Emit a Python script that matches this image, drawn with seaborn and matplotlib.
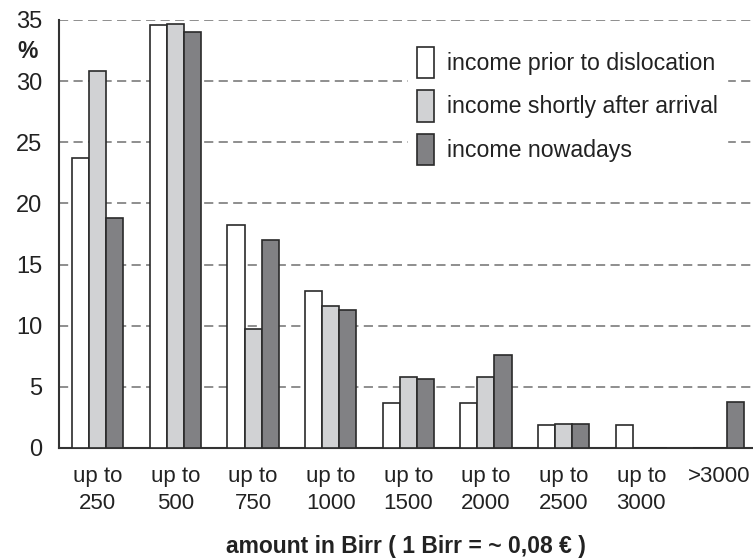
import pandas as pd
import matplotlib.pyplot as plt
import seaborn as sns

# Data
categories = ["up to\n250", "up to\n500", "up to\n750", "up to\n1000", "up to\n1500",
              "up to\n2000", "up to\n2500", "up to\n3000", ">3000"]
series = ["income prior to dislocation", "income shortly after arrival", "income nowadays"]
prior = [23.7, 34.6, 18.2, 12.8, 3.7, 3.7, 1.85, 1.85, 0]
shortly = [30.8, 34.7, 9.7, 11.6, 5.8, 5.8, 1.95, 0, 0]
nowadays = [18.8, 34.0, 17.0, 11.3, 5.65, 7.6, 1.95, 0, 3.8]

colors = ["#ffffff", "#d1d2d4", "#808184"]

rows = []
for s, vals in zip(series, [prior, shortly, nowadays]):
    for c, v in zip(categories, vals):
        rows.append({"cat": c, "val": v, "series": s})
df = pd.DataFrame(rows)

sns.set_style("white")
plt.rcParams["font.family"] = ["Liberation Sans", "DejaVu Sans"]

fig = plt.figure(figsize=(7.53, 5.59), dpi=100)
ax = fig.add_axes([59 / 753, 1 - 448 / 559, 1 - 59 / 753, 428 / 559])

sns.barplot(data=df, x="cat", y="val", hue="series", palette=colors,
            edgecolor="#2a2a2a", linewidth=1.2, width=0.66, ax=ax, zorder=3)

ax.set_ylim(0, 35)
ax.set_xlim(-0.5, 8.44)
ax.set_yticks(range(0, 36, 5))
ax.yaxis.grid(True, linestyle=(0, (6, 3.5)), color="#707070", linewidth=1.1, zorder=0)
ax.set_axisbelow(True)

# x ticks: labels at centres, tick marks at boundaries
ax.set_xticks(range(len(categories)))
ax.set_xticklabels(categories, fontsize=16, color="#222222", linespacing=1.4)
ax.set_xticks([i - 0.5 for i in range(len(categories))], minor=True)
ax.tick_params(axis="x", which="major", length=0, pad=13)
ax.tick_params(axis="x", which="minor", length=10, width=1.5, color="#333333", direction="out")
ax.tick_params(axis="y", length=10, width=1.5, color="#333333", direction="out",
               labelsize=17, labelcolor="#222222", pad=2)

for side in ["top", "right"]:
    ax.spines[side].set_visible(False)
for side in ["left", "bottom"]:
    ax.spines[side].set_color("#333333")
    ax.spines[side].set_linewidth(1.5)

ax.set_xlabel("amount in Birr ( 1 Birr = ~ 0,08 € )", fontsize=16.5, fontweight="bold",
              color="#222222", labelpad=15)
ax.set_ylabel("")
fig.text(28 / 753, 1 - 52 / 559, "%", fontsize=16.5, fontweight="bold", color="#222222",
         ha="center", va="center")

handles, labels = ax.get_legend_handles_labels()
leg = ax.legend(handles, labels, loc="upper left",
                bbox_to_anchor=(396 / 753, 1 - 26 / 559), bbox_transform=fig.transFigure,
                fontsize=16.7, frameon=True, facecolor="white", edgecolor="white",
                framealpha=1, fancybox=False, handlelength=0.74, handleheight=1.7,
                handletextpad=0.55, labelspacing=0.52, borderpad=0.4)
for t in leg.get_texts():
    t.set_color("#222222")

fig.savefig("out.png", dpi=100)
